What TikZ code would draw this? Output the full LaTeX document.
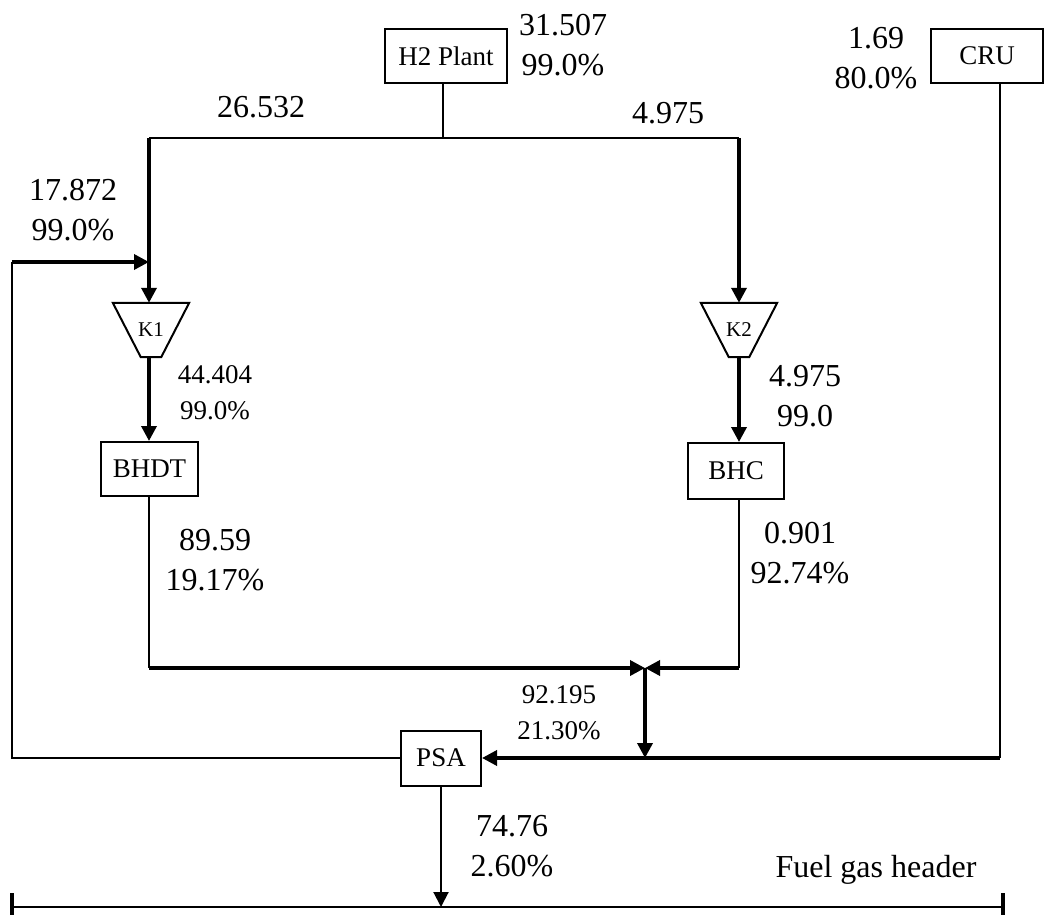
\documentclass[tikz,border=0pt]{standalone}
\usepackage{fontspec}
\setmainfont{Liberation Serif}
\usetikzlibrary{arrows.meta,calc}
\begin{document}
\begin{tikzpicture}[x=1pt,y=1pt,
  thin line/.style={line width=2pt},
  thick line/.style={line width=3.5pt},
  tip/.style={-{Triangle[length=15pt,width=15pt]}},
  box/.style={draw, line width=2pt, inner sep=0pt, font=\fontsize{27}{32}\selectfont},
  big/.style={inner sep=0pt, align=center, font=\fontsize{32}{40}\selectfont},
  med/.style={inner sep=0pt, align=center, font=\fontsize{27}{36}\selectfont},
  comp/.style={inner sep=0pt, minimum width=76pt, minimum height=54pt, font=\fontsize{21}{24}\selectfont}
]
\useasboundingbox (0,0) rectangle (1044,-915);
% units
\node[box, minimum width=122pt, minimum height=54pt] (h2) at (446,-56) {H2 Plant};
\node[box, minimum width=112pt, minimum height=54pt] (cru) at (987,-56) {CRU};
\node[box, minimum width=97pt, minimum height=54pt] (bhdt) at (149.5,-469) {BHDT};
\node[box, minimum width=96pt, minimum height=56pt] (bhc) at (736,-471) {BHC};
\node[box, minimum width=80pt, minimum height=55pt] (psa) at (441,-758) {PSA};
% compressors
\node[comp] (k1) at (151,-330) {K1};
\node[comp] (k2) at (739,-330) {K2};
\draw[thin line, line join=miter] (k1.north west) -- (k1.north east) -- ($(k1.south east)+(-28,0)$) -- ($(k1.south west)+(28,0)$) -- cycle;
\draw[thin line, line join=miter] (k2.north west) -- (k2.north east) -- ($(k2.south east)+(-28,0)$) -- ($(k2.south west)+(28,0)$) -- cycle;
% coordinates
\coordinate (tl) at (149,-138);
\coordinate (tr) at (739,-138);
\coordinate (bl) at (149,-668);
\coordinate (br) at (739,-668);
\coordinate (jn) at (645,-668);
\coordinate (jd) at (645,-758);
\coordinate (cr) at (1000,-758);
\coordinate (rl) at (12,-758);
\coordinate (ru) at (12,-262);
\coordinate (rin) at (149,-262);
\coordinate (fl) at (12,-907);
\coordinate (fr) at (1003,-907);
\coordinate (fin) at (441,-907);
% connectors
\draw[thin line] (h2.south -| 443,0) -- (443,-138);
\draw[thin line] (tl) -- (tr);
\draw[thick line, tip] (tl) -- (k1.north -| tl);
\draw[thick line, tip] (tr) -- (k2.north);
\draw[thick line, tip] (k1.south -| tl) -- (bhdt.north -| tl);
\draw[thick line, tip] (k2.south) -- (bhc.north -| k2);
\draw[thin line] (bhdt.south -| bl) -- (bl);
\draw[thick line, tip] (bl) -- (jn);
\draw[thin line] (bhc.south -| br) -- (br);
\draw[thick line, tip] (br) -- (jn);
\draw[thick line, tip] (jn) -- (jd);
\draw[thin line] (cru.south -| cr) -- (cr);
\draw[thick line, tip] (cr) -- (psa.east);
\draw[thin line] (psa.west) -- (rl) -- (ru);
\draw[thick line, tip] (ru) -- (rin);
\draw[thin line, tip] (psa.south) -- (fin);
\draw[thin line] (fl) -- (fr);
\draw[line width=3.5pt] (12,-893) -- (12,-915);
\draw[line width=3.5pt] (1003,-893) -- (1003,-915);
% labels
\node[big] (l1) at (563,-45) {31.507\\99.0\%};
\node[big] (l2) at (876,-58) {1.69\\80.0\%};
\node[big] (l3) at (261,-107) {26.532};
\node[big] (l4) at (668,-113) {4.975};
\node[big] (l5) at (73,-210) {17.872\\99.0\%};
\node[med] (l6) at (215,-393) {44.404\\99.0\%};
\node[big] (l7) at (805,-396) {4.975\\99.0};
\node[big] (l8) at (215,-560) {89.59\\19.17\%};
\node[big] (l9) at (800,-553) {0.901\\92.74\%};
\node[med] (l10) at (559,-713) {92.195\\21.30\%};
\node[big] (l11) at (512,-846) {74.76\\2.60\%};
\node[big] (l12) at (876,-870) {Fuel gas header};
\end{tikzpicture}
\end{document}
